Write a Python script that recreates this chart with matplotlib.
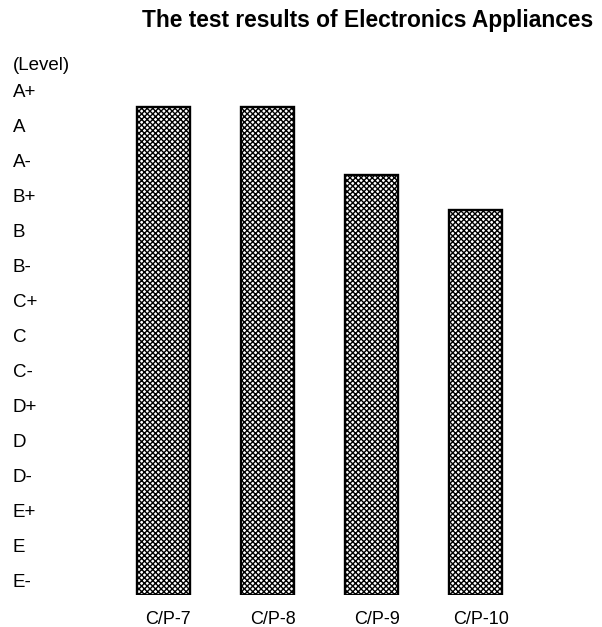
#!/usr/bin/env python3
import matplotlib
matplotlib.use("Agg")
import matplotlib.pyplot as plt
import matplotlib.transforms as mtransforms

plt.rcParams["font.family"] = ["Liberation Sans", "DejaVu Sans"]
plt.rcParams["hatch.linewidth"] = 1.0

# Grade scale, lowest first
levels = ["E-", "E", "E+", "D-", "D", "D+", "C-", "C", "C+",
          "B-", "B", "B+", "A-", "A", "A+"]
products = ["C/P-7", "C/P-8", "C/P-9", "C/P-10"]
# Scores on the grade scale (E- = 0, A+ = 14)
scores = [13.57, 13.57, 11.63, 10.63]
base = -0.37

fig = plt.figure(figsize=(6.02, 6.27), dpi=100)
fig.patch.set_facecolor("white")

# axes spanning the bar area (35 px per grade step)
left, right = 110 / 602, 530 / 602
bottom, top = 32 / 627, 587 / 627
ax = fig.add_axes([left, bottom, right - left, top - bottom])
ax.set_xlim(-0.51, 3.52)
ax.set_ylim(base, base + 555 / 35)
ax.axis("off")

heights = [s - base for s in scores]
ax.bar(range(len(products)), heights, bottom=base, width=0.51,
       facecolor="white", edgecolor="black", linewidth=1.7,
       hatch="xxxxxx")

# level names along the left edge
trans = mtransforms.blended_transform_factory(fig.transFigure, ax.transData)
for i, lv in enumerate(levels):
    ax.text(13 / 602, i, lv, transform=trans, ha="left", va="center",
            fontsize=13.5)
ax.text(13 / 602, len(levels) - 1 + 27 / 35, "(Level)", transform=trans,
        ha="left", va="center", fontsize=13.5)

# product names under each bar
trans_x = mtransforms.blended_transform_factory(ax.transData, fig.transFigure)
for i, p in enumerate(products):
    ax.text(i + 0.05, 1 - 619 / 627, p, transform=trans_x, ha="center",
            va="center", fontsize=13)

fig.text(368 / 602, 1 - 21 / 627, "The test results of Electronics Appliances",
         ha="center", va="center", fontsize=16.4, fontweight="bold")

fig.savefig("out.png", dpi=100)
